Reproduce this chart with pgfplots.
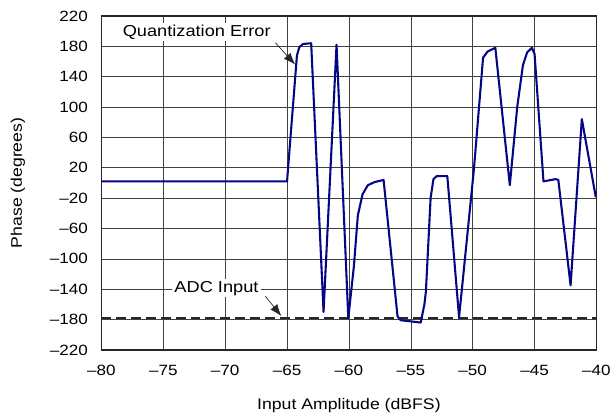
\documentclass[border=0pt]{standalone}
\usepackage{pgfplots}
\pgfplotsset{compat=1.18}
\usetikzlibrary{arrows.meta}
\usepackage{fontspec}
\setmainfont{Liberation Sans}[FakeStretch=1.15]
\definecolor{navy}{RGB}{5,5,135}
\begin{document}
\begin{tikzpicture}
\path (-102bp,-68bp) rectangle (512bp,352bp);
\begin{axis}[
  at={(0,0)}, anchor=south west,
  scale only axis,
  width=498bp, height=336bp,
  xmin=-80, xmax=-40, ymin=-220, ymax=220,
  xtick={-80,-75,...,-40},
  xticklabels={–80,–75,–70,–65,–60,–55,–50,–45,–40},
  ytick={-220,-180,...,220},
  yticklabels={–220,–180,–140,–100,–60,–20,20,60,100,140,180,220},
  grid=major,
  major grid style={black!75, line width=0.6pt},
  axis line style={black!85, line width=1.5pt},
  tick style={draw=none},
  ticklabel style={font=\fontsize{15}{17}\selectfont},
  yticklabel style={xshift=-10bp},
  xticklabel style={yshift=-12bp},
  xlabel={Input Amplitude (dBFS)},
  ylabel={Phase (degrees)},
  xlabel style={font=\fontsize{15.5}{18}\selectfont, at={(axis description cs:0.5,0)}, anchor=center, yshift=-56bp},
  ylabel style={font=\fontsize{15.5}{18}\selectfont, at={(axis description cs:0,0.5)}, anchor=center, yshift=84bp},
  clip=false,
]
\addplot[black!85, line width=2pt, dash pattern=on 10pt off 5pt, forget plot] coordinates {(-80,-178) (-40,-178)};
\addplot[navy, line width=2.1pt, line join=round] coordinates {
(-80,2) (-65.0,2) (-64.2,168) (-64.0,179) (-63.7,183) (-63.05,184)
(-62.05,-170) (-61.0,182) (-60.05,-178) (-59.6,-110) (-59.28,-43)
(-58.9,-15) (-58.47,-3) (-57.94,1) (-57.2,4) (-56.07,-176) (-55.8,-181)
(-55.2,-182) (-54.2,-184) (-53.9,-160) (-53.78,-143) (-53.4,-20) (-53.17,5) (-52.9,9) (-52.05,9)
(-51.1,-177) (-49.9,18) (-49.16,165) (-48.8,173) (-48.17,178) (-47.0,-3)
(-46.4,100) (-45.94,155) (-45.6,172) (-45.22,178) (-45.0,170) (-44.28,2)
(-43.3,5) (-43.08,4) (-42.09,-135) (-41.18,84) (-40.05,-19)
};
\node[fill=white, inner sep=2pt, font=\fontsize{16}{18}\selectfont] at (axis cs:-72.3,199) {Quantization Error};
\draw[-{Latex[length=12pt,width=9pt]}, black!85, line width=0.7pt] (axis cs:-65.94,184.6) -- (axis cs:-64.34,155.8);
\node[fill=white, inner sep=2pt, font=\fontsize{16}{18}\selectfont] at (axis cs:-70.7,-138.8) {ADC Input};
\draw[-{Latex[length=12pt,width=9pt]}, black!85, line width=0.7pt] (axis cs:-66.75,-149.3) -- (axis cs:-65.46,-175.5);
\end{axis}
\end{tikzpicture}
\end{document}
